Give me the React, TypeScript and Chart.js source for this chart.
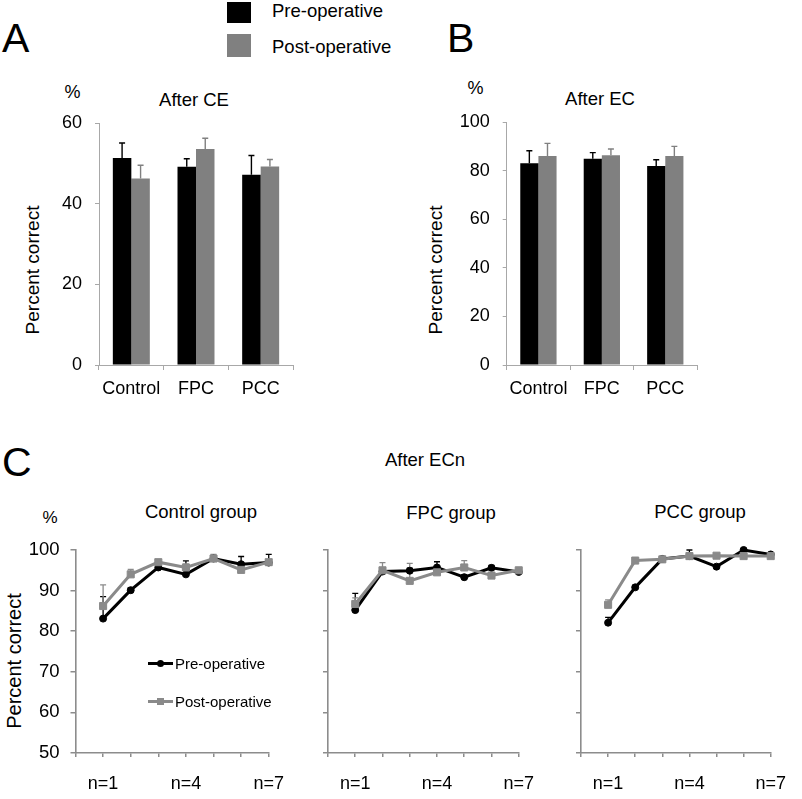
import React, { useEffect, useRef } from 'react';
import { Chart, registerables } from 'chart.js';

Chart.register(...registerables);

// ---------- data ----------
const barCategories = ['Control', 'FPC', 'PCC'];

// Panel A: After CE
const cePre = [51.4, 49.2, 47.2];
const cePreErr = [3.7, 2.0, 4.8];
const cePost = [46.3, 53.6, 49.3];
const cePostErr = [3.3, 2.7, 1.7];

// Panel B: After EC
const ecPre = [83.1, 85.0, 82.0];
const ecPreErr = [5.2, 2.5, 2.6];
const ecPost = [86.1, 86.4, 86.1];
const ecPostErr = [5.2, 2.6, 4.0];

// Panel C: After ECn
const sessions = [1, 2, 3, 4, 5, 6, 7];
const sessionTickLabels = ['', 'n=1', '', '', 'n=4', '', '', 'n=7'];

const controlPre = [83.1, 90.1, 95.7, 94.0, 97.9, 96.5, 96.9];
const controlPreErr = [5.4, 0.6, 0.6, 3.3, 0.6, 1.9, 2.0];
const controlPost = [86.2, 94.0, 97.0, 95.7, 97.9, 95.1, 97.0];
const controlPostErr = [5.2, 1.2, 0.6, 0.8, 1.0, 0.8, 0.6];

const fpcPre = [85.2, 94.7, 94.9, 95.7, 93.3, 95.6, 94.6];
const fpcPreErr = [4.1, 0.6, 0.6, 1.4, 0.6, 0.6, 0.5];
const fpcPost = [86.7, 95.0, 92.4, 94.5, 95.7, 93.7, 95.0];
const fpcPostErr = [1.5, 1.9, 4.3, 0.8, 1.7, 0.6, 0.5];

const pccPre = [82.1, 90.8, 97.8, 98.5, 95.9, 100.0, 98.9];
const pccPreErr = [1.3, 0.5, 0.5, 1.5, 0.4, 0.4, 0.4];
const pccPost = [86.5, 97.4, 97.7, 98.5, 98.6, 98.5, 98.5];
const pccPostErr = [1.2, 0.4, 0.4, 0.6, 0.4, 0.4, 0.4];

// ---------- styles ----------
const FONT = '"Liberation Sans", Arial, Helvetica, sans-serif';
const BLACK = '#000000';
const GRAY_BAR = '#808080';
const GRAY_LINE = '#8a8a8a';
const AXIS_BAR = '#a8a8a8';
const AXIS_LINE = '#8c8c8c';

function drawErrors(chart: any) {
  const ctx = chart.ctx;
  const yScale = chart.scales.y;
  chart.data.datasets.forEach((ds: any, i: number) => {
    const errs = ds.errors;
    if (!errs) return;
    const meta = chart.getDatasetMeta(i);
    ctx.save();
    ctx.strokeStyle = ds.errorColor;
    ctx.lineWidth = ds.errorWidth || 1.3;
    meta.data.forEach((el: any, j: number) => {
      const raw = ds.data[j];
      const v = typeof raw === 'number' ? raw : raw.y;
      const x = el.x;
      const y0 = yScale.getPixelForValue(v);
      const y1 = yScale.getPixelForValue(v + errs[j]);
      ctx.beginPath();
      ctx.moveTo(x, y0);
      ctx.lineTo(x, y1);
      ctx.moveTo(x - 3, y1);
      ctx.lineTo(x + 3, y1);
      ctx.stroke();
    });
    ctx.restore();
  });
}

const errorBarPlugin = {
  id: 'errorBars',
  beforeDatasetsDraw(chart: any) {
    if (chart.config.type === 'line') drawErrors(chart);
  },
  afterDatasetsDraw(chart: any) {
    if (chart.config.type === 'bar') drawErrors(chart);
  },
};

function barConfig(
  pre: number[], preErr: number[], post: number[], postErr: number[],
  max: number, yWidth: number, padTop: number, padRight: number
): any {
  return {
    type: 'bar',
    data: {
      labels: barCategories,
      datasets: [
        { label: 'Pre-operative', data: pre, backgroundColor: BLACK, errors: preErr, errorColor: BLACK, errorWidth: 1.4, categoryPercentage: 0.572, barPercentage: 1 },
        { label: 'Post-operative', data: post, backgroundColor: GRAY_BAR, errors: postErr, errorColor: GRAY_BAR, errorWidth: 1.4, categoryPercentage: 0.572, barPercentage: 1 },
      ],
    },
    options: {
      responsive: false,
      animation: false,
      layout: { padding: { top: padTop, right: padRight, left: 0, bottom: 0 } },
      plugins: { legend: { display: false }, tooltip: { enabled: false }, title: { display: false } },
      scales: {
        x: {
          grid: { display: true, drawOnChartArea: false, drawTicks: true, tickLength: 5, color: AXIS_BAR, offset: true },
          border: { display: true, color: AXIS_BAR, width: 1 },
          ticks: { color: '#000', font: { family: FONT, size: 18 }, padding: 8, maxRotation: 0, autoSkip: false },
          afterFit: (s: any) => { s.height = 35; },
        },
        y: {
          min: 0,
          max,
          ticks: { stepSize: 20, color: '#000', font: { family: FONT, size: 18 }, padding: 13 },
          grid: { drawOnChartArea: false, drawTicks: true, tickLength: 4, color: AXIS_BAR },
          border: { display: true, color: AXIS_BAR, width: 1 },
          afterFit: (s: any) => { s.width = yWidth; },
        },
      },
    },
    plugins: [errorBarPlugin],
  };
}

function lineConfig(
  pre: number[], preErr: number[], post: number[], postErr: number[],
  showYLabels: boolean, yWidth: number, padRight: number
): any {
  const toPts = (vals: number[]) => sessions.map((s, i) => ({ x: s, y: vals[i] }));
  return {
    type: 'line',
    data: {
      datasets: [
        {
          label: 'Pre-operative', data: toPts(pre), borderColor: BLACK, backgroundColor: BLACK,
          borderWidth: 3, pointStyle: 'circle', pointRadius: 3.5, pointBorderWidth: 1,
          errors: preErr, errorColor: BLACK, errorWidth: 1.3, order: 1, clip: false, tension: 0,
        },
        {
          label: 'Post-operative', data: toPts(post), borderColor: GRAY_LINE, backgroundColor: GRAY_LINE,
          borderWidth: 3, pointStyle: 'rect', pointRadius: 5, pointBorderWidth: 1,
          errors: postErr, errorColor: GRAY_LINE, errorWidth: 1.3, order: 0, clip: false, tension: 0,
        },
      ],
    },
    options: {
      responsive: false,
      animation: false,
      layout: { padding: { top: 30, right: padRight, left: 0, bottom: 0 } },
      plugins: { legend: { display: false }, tooltip: { enabled: false }, title: { display: false } },
      scales: {
        x: {
          type: 'linear',
          min: 0,
          max: 7,
          ticks: {
            stepSize: 1, autoSkip: false, maxRotation: 0, color: '#000',
            font: { family: FONT, size: 18 }, padding: 16,
            callback: (v: any) => sessionTickLabels[v] ?? '',
          },
          grid: { drawOnChartArea: false, drawTicks: true, tickLength: 4, color: AXIS_LINE, lineWidth: 1.5 },
          border: { display: true, color: AXIS_LINE, width: 1.6 },
          afterFit: (s: any) => { s.height = 46; },
        },
        y: {
          min: 50,
          max: 100,
          ticks: { stepSize: 10, display: showYLabels, color: '#000', font: { family: FONT, size: 18.5 }, padding: 11 },
          grid: { drawOnChartArea: false, drawTicks: true, tickLength: 5, color: AXIS_LINE, lineWidth: 1.5 },
          border: { display: true, color: AXIS_LINE, width: 1.6 },
          afterFit: (s: any) => { s.width = yWidth; },
        },
      },
    },
    plugins: [errorBarPlugin],
  };
}

function ChartCanvas(props: { left: number; top: number; width: number; height: number; makeConfig: () => any }) {
  const ref = useRef<HTMLCanvasElement>(null);
  useEffect(() => {
    const chart = new Chart(ref.current as HTMLCanvasElement, props.makeConfig());
    return () => chart.destroy();
  }, []);
  return (
    <canvas
      ref={ref}
      width={props.width}
      height={props.height}
      style={{ position: 'absolute', left: props.left, top: props.top, width: props.width, height: props.height }}
    />
  );
}

function Txt(props: { x: number; y: number; size: number; children: any; align?: 'left' | 'center'; rotate?: boolean }) {
  const center = props.align !== 'left';
  const transform = props.rotate
    ? 'translate(-50%, -50%) rotate(-90deg)'
    : center ? 'translate(-50%, -50%)' : 'translateY(-50%)';
  return (
    <div
      style={{
        position: 'absolute', left: props.x, top: props.y, fontFamily: FONT, fontSize: props.size,
        lineHeight: 1, whiteSpace: 'nowrap', color: '#000', transform,
      }}
    >
      {props.children}
    </div>
  );
}

export default function App() {
  return (
    <div style={{ position: 'absolute', left: 0, top: 0, width: 802, height: 799, background: '#fff', overflow: 'hidden' }}>
      {/* Top legend */}
      <div style={{ position: 'absolute', left: 227, top: 2, width: 24, height: 21, background: BLACK }} />
      <div style={{ position: 'absolute', left: 227, top: 34, width: 24, height: 23, background: GRAY_BAR }} />
      <Txt x={272} y={11} size={18.5} align="left">Pre-operative</Txt>
      <Txt x={272} y={47} size={18.5} align="left">Post-operative</Txt>

      {/* Panel letters */}
      <Txt x={2} y={38} size={41} align="left">A</Txt>
      <Txt x={447} y={38} size={41} align="left">B</Txt>
      <Txt x={2} y={462} size={41} align="left">C</Txt>

      {/* Panel A */}
      <Txt x={72.5} y={92} size={18}>%</Txt>
      <Txt x={194} y={100} size={18.5}>After CE</Txt>
      <Txt x={32} y={270} size={19} rotate>Percent correct</Txt>
      <ChartCanvas left={0} top={60} width={320} height={340}
        makeConfig={() => barConfig(cePre, cePreErr, cePost, cePostErr, 60, 99, 63.3, 27)} />

      {/* Panel B */}
      <Txt x={475.5} y={88} size={18}>%</Txt>
      <Txt x={600} y={98.5} size={18.5}>After EC</Txt>
      <Txt x={435} y={270} size={19} rotate>Percent correct</Txt>
      <ChartCanvas left={400} top={60} width={320} height={340}
        makeConfig={() => barConfig(ecPre, ecPreErr, ecPost, ecPostErr, 100, 106.7, 62.3, 23)} />

      {/* Panel C */}
      <Txt x={425} y={460} size={18.5}>After ECn</Txt>
      <Txt x={50} y={516.5} size={17}>%</Txt>
      <Txt x={201} y={512} size={18.5}>Control group</Txt>
      <Txt x={451} y={513} size={18.5}>FPC group</Txt>
      <Txt x={700} y={512} size={18.5}>PCC group</Txt>
      <Txt x={14} y={661} size={20} rotate>Percent correct</Txt>

      <ChartCanvas left={0} top={520} width={300} height={279}
        makeConfig={() => lineConfig(controlPre, controlPreErr, controlPost, controlPostErr, true, 75.5, 23)} />
      <ChartCanvas left={300} top={520} width={250} height={279}
        makeConfig={() => lineConfig(fpcPre, fpcPreErr, fpcPost, fpcPostErr, false, 28, 21)} />
      <ChartCanvas left={550} top={520} width={252} height={279}
        makeConfig={() => lineConfig(pccPre, pccPreErr, pccPost, pccPostErr, false, 31, 20)} />

      {/* Panel C line legend */}
      <div style={{ position: 'absolute', left: 148, top: 661.5, width: 25, height: 3, background: BLACK }} />
      <div style={{ position: 'absolute', left: 157, top: 659.5, width: 7, height: 7, borderRadius: '50%', background: BLACK }} />
      <Txt x={175} y={663} size={15} align="left">Pre-operative</Txt>
      <div style={{ position: 'absolute', left: 148, top: 699.5, width: 25, height: 3, background: GRAY_LINE }} />
      <div style={{ position: 'absolute', left: 157, top: 697.5, width: 7, height: 7, background: GRAY_LINE }} />
      <Txt x={175} y={701} size={15} align="left">Post-operative</Txt>
    </div>
  );
}
